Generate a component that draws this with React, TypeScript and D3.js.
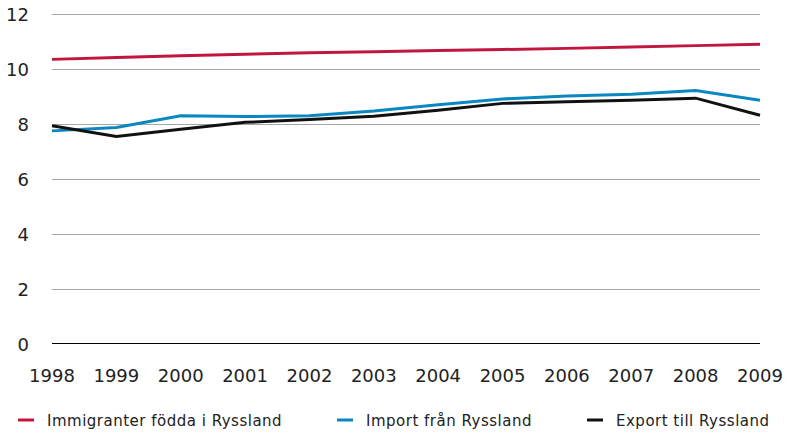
import React, { useEffect, useRef } from 'react';
import * as d3 from 'd3';

const years = [1998, 1999, 2000, 2001, 2002, 2003, 2004, 2005, 2006, 2007, 2008, 2009];
const immigranter = [10.35, 10.42, 10.48, 10.54, 10.59, 10.63, 10.67, 10.71, 10.75, 10.8, 10.85, 10.9];
const importValues = [7.75, 7.87, 8.3, 8.27, 8.3, 8.47, 8.7, 8.91, 9.02, 9.08, 9.22, 8.86];
const exportValues = [7.94, 7.55, 7.81, 8.06, 8.16, 8.28, 8.5, 8.75, 8.81, 8.86, 8.94, 8.32];
const yTicks = [0, 2, 4, 6, 8, 10, 12];

const seriesNames = ['Immigranter födda i Ryssland', 'Import från Ryssland', 'Export till Ryssland'];
const seriesColors = ['#c1173f', '#0987c1', '#111111'];

const App: React.FC = () => {
  const ref = useRef<SVGSVGElement>(null);

  useEffect(() => {
    if (!ref.current) return;
    const svg = d3.select(ref.current);
    svg.selectAll('*').remove();

    const font = '"DejaVu Sans", Verdana, sans-serif';
    const x = d3.scaleLinear().domain([1998, 2009]).range([52, 760]);
    const y = d3.scaleLinear().domain([0, 12]).range([344, 14]);

    // gridlines
    svg.append('g')
      .selectAll('line')
      .data(yTicks.filter(t => t > 0))
      .join('line')
      .attr('x1', 52)
      .attr('x2', 760)
      .attr('y1', d => Math.round(y(d)) + 0.5)
      .attr('y2', d => Math.round(y(d)) + 0.5)
      .style('stroke', '#a6a6a6')
      .style('stroke-width', 1);

    svg.append('line')
      .attr('x1', 52)
      .attr('x2', 760)
      .attr('y1', y(0) - 0.5)
      .attr('y2', y(0) - 0.5)
      .style('stroke', '#000')
      .style('stroke-width', 1);

    // y labels
    svg.append('g')
      .selectAll('text')
      .data(yTicks)
      .join('text')
      .attr('x', 29)
      .attr('y', d => y(d) + 7)
      .attr('text-anchor', 'end')
      .style('font-family', font)
      .style('font-size', '18px')
      .style('fill', '#222')
      .text(d => d);

    // x labels
    svg.append('g')
      .selectAll('text')
      .data(years)
      .join('text')
      .attr('x', d => x(d))
      .attr('y', 382)
      .attr('text-anchor', 'middle')
      .style('font-family', font)
      .style('font-size', '18px')
      .style('fill', '#222')
      .text(d => d);

    const line = d3.line<number>()
      .x((_, i) => x(years[i]))
      .y(d => y(d));

    [immigranter, importValues, exportValues].forEach((vals, i) => {
      svg.append('path')
        .datum(vals)
        .attr('d', line)
        .style('fill', 'none')
        .style('stroke', seriesColors[i])
        .style('stroke-width', 3)
        .style('stroke-linejoin', 'miter');
    });

    // legend
    const legendX = [18, 337, 587];
    const legend = svg.append('g');
    seriesNames.forEach((name, i) => {
      legend.append('line')
        .attr('x1', legendX[i])
        .attr('x2', legendX[i] + 16)
        .attr('y1', 420)
        .attr('y2', 420)
        .style('stroke', seriesColors[i])
        .style('stroke-width', 3);
      legend.append('text')
        .attr('x', legendX[i] + 29)
        .attr('y', 425.5)
        .style('font-family', font)
        .style('font-size', '15px')
        .style('letter-spacing', '0.5px')
        .style('fill', '#222')
        .text(name);
    });
  }, []);

  return (
    <div style={{ position: 'absolute', left: 0, top: 0 }}>
      <svg ref={ref} width={791} height={433} style={{ display: 'block', background: '#fff' }} />
    </div>
  );
};

export default App;
